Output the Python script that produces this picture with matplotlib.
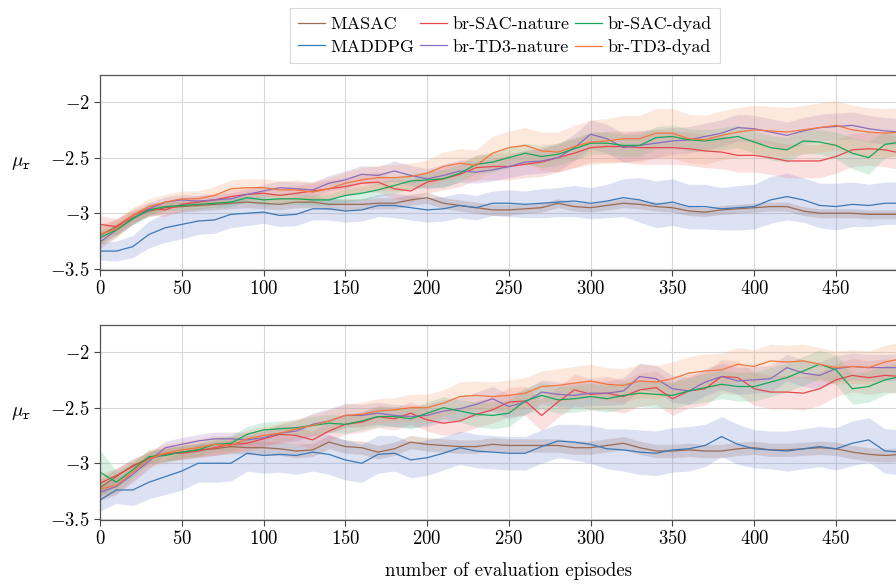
import matplotlib.pyplot as plt
import numpy as np

# evaluation episodes (sampled every 10)
episodes = np.arange(0, 500, 10)

labels = ['MASAC', 'MADDPG', 'br-SAC-nature', 'br-TD3-nature', 'br-SAC-dyad', 'br-TD3-dyad']
colors = ['#9c6b50', '#3a78b8', '#e8474b', '#8a6cc0', '#16a85a', '#f5773c']
fills = ['#9c6b50', '#6f86d0', '#f08080', '#a080c8', '#5cc08a', '#f5a070']

# ---- upper panel: mean values ----
top_masac = [-3.20, -3.12, -3.04, -2.98, -2.95, -2.94, -2.93, -2.92, -2.91, -2.90,
             -2.91, -2.92, -2.90, -2.90, -2.92, -2.92, -2.92, -2.91, -2.91, -2.88,
             -2.86, -2.91, -2.93, -2.95, -2.97, -2.97, -2.96, -2.95, -2.91, -2.94,
             -2.95, -2.93, -2.91, -2.92, -2.94, -2.95, -2.98, -2.99, -2.97, -2.96,
             -2.95, -2.94, -2.94, -2.98, -3.00, -3.00, -3.00, -3.01, -3.01, -3.01]
top_maddpg = [-3.34, -3.34, -3.30, -3.19, -3.13, -3.10, -3.07, -3.06, -3.01, -3.00,
              -2.99, -3.02, -3.01, -2.96, -2.96, -2.98, -2.97, -2.93, -2.93, -2.95,
              -2.97, -2.96, -2.93, -2.95, -2.91, -2.91, -2.92, -2.91, -2.90, -2.89,
              -2.91, -2.89, -2.86, -2.88, -2.92, -2.90, -2.94, -2.94, -2.96, -2.95,
              -2.94, -2.88, -2.85, -2.88, -2.93, -2.94, -2.92, -2.93, -2.91, -2.91]
top_sac_nature = [-3.10, -3.12, -3.02, -2.96, -2.97, -2.92, -2.90, -2.88, -2.85, -2.83,
                  -2.82, -2.84, -2.82, -2.80, -2.78, -2.76, -2.73, -2.72, -2.78, -2.80,
                  -2.72, -2.69, -2.65, -2.59, -2.58, -2.58, -2.56, -2.54, -2.50, -2.46,
                  -2.41, -2.40, -2.40, -2.41, -2.41, -2.41, -2.42, -2.44, -2.45, -2.48,
                  -2.48, -2.50, -2.53, -2.53, -2.53, -2.49, -2.43, -2.42, -2.43, -2.46]
top_td3_nature = [-3.26, -3.15, -3.05, -2.96, -2.90, -2.88, -2.89, -2.88, -2.87, -2.83,
                  -2.80, -2.77, -2.78, -2.79, -2.73, -2.70, -2.65, -2.66, -2.62, -2.66,
                  -2.69, -2.66, -2.62, -2.63, -2.61, -2.58, -2.54, -2.53, -2.50, -2.41,
                  -2.29, -2.33, -2.41, -2.39, -2.37, -2.35, -2.34, -2.31, -2.28, -2.23,
                  -2.24, -2.27, -2.30, -2.26, -2.23, -2.22, -2.21, -2.24, -2.26, -2.27]
top_sac_dyad = [-3.22, -3.15, -3.05, -2.97, -2.94, -2.93, -2.92, -2.91, -2.90, -2.86,
                -2.88, -2.87, -2.87, -2.88, -2.88, -2.84, -2.82, -2.79, -2.75, -2.71,
                -2.70, -2.69, -2.64, -2.56, -2.54, -2.50, -2.46, -2.49, -2.47, -2.42,
                -2.37, -2.37, -2.39, -2.39, -2.32, -2.31, -2.34, -2.35, -2.33, -2.31,
                -2.36, -2.41, -2.43, -2.35, -2.36, -2.39, -2.46, -2.50, -2.38, -2.36]
top_td3_dyad = [-3.19, -3.14, -3.02, -2.94, -2.90, -2.87, -2.87, -2.84, -2.78, -2.77,
                -2.77, -2.79, -2.79, -2.81, -2.78, -2.73, -2.70, -2.68, -2.68, -2.67,
                -2.64, -2.58, -2.55, -2.57, -2.46, -2.41, -2.39, -2.44, -2.45, -2.40,
                -2.36, -2.35, -2.33, -2.33, -2.28, -2.28, -2.33, -2.34, -2.30, -2.27,
                -2.25, -2.26, -2.27, -2.25, -2.23, -2.21, -2.25, -2.27, -2.28, -2.27]

# ---- upper panel: band half-widths ----
top_masac_sd = [0.08, 0.07, 0.06, 0.05, 0.05, 0.05, 0.05, 0.05, 0.05, 0.05,
                0.05, 0.05, 0.05, 0.05, 0.05, 0.05, 0.05, 0.05, 0.05, 0.05,
                0.05, 0.05, 0.05, 0.05, 0.05, 0.05, 0.04, 0.04, 0.04, 0.04,
                0.04, 0.04, 0.04, 0.04, 0.04, 0.04, 0.04, 0.04, 0.04, 0.04,
                0.04, 0.04, 0.04, 0.04, 0.04, 0.04, 0.04, 0.04, 0.04, 0.04]
top_maddpg_sd = [0.08, 0.09, 0.10, 0.12, 0.13, 0.13, 0.12, 0.12, 0.12, 0.11,
                 0.10, 0.10, 0.10, 0.10, 0.10, 0.10, 0.10, 0.10, 0.11, 0.11,
                 0.11, 0.11, 0.11, 0.11, 0.11, 0.12, 0.12, 0.13, 0.13, 0.14,
                 0.14, 0.15, 0.17, 0.20, 0.21, 0.21, 0.20, 0.20, 0.19, 0.20,
                 0.20, 0.21, 0.21, 0.20, 0.20, 0.21, 0.20, 0.19, 0.19, 0.19]
top_sac_nature_sd = [0.08, 0.07, 0.06, 0.06, 0.06, 0.06, 0.06, 0.06, 0.06, 0.06,
                     0.06, 0.07, 0.07, 0.07, 0.08, 0.08, 0.08, 0.09, 0.09, 0.10,
                     0.10, 0.10, 0.11, 0.11, 0.12, 0.12, 0.12, 0.13, 0.13, 0.13,
                     0.13, 0.14, 0.14, 0.15, 0.15, 0.15, 0.15, 0.15, 0.15, 0.15,
                     0.15, 0.15, 0.15, 0.15, 0.15, 0.15, 0.15, 0.15, 0.15, 0.15]
top_td3_nature_sd = [0.06, 0.06, 0.05, 0.05, 0.05, 0.05, 0.05, 0.05, 0.05, 0.05,
                     0.06, 0.06, 0.06, 0.07, 0.07, 0.08, 0.08, 0.08, 0.09, 0.09,
                     0.09, 0.10, 0.10, 0.10, 0.10, 0.10, 0.11, 0.11, 0.12, 0.12,
                     0.13, 0.13, 0.13, 0.13, 0.13, 0.12, 0.12, 0.12, 0.12, 0.12,
                     0.12, 0.12, 0.12, 0.12, 0.12, 0.12, 0.12, 0.12, 0.12, 0.12]
top_sac_dyad_sd = [0.06, 0.05, 0.05, 0.05, 0.04, 0.04, 0.04, 0.04, 0.04, 0.04,
                   0.05, 0.05, 0.05, 0.05, 0.05, 0.06, 0.06, 0.06, 0.07, 0.07,
                   0.07, 0.08, 0.08, 0.08, 0.09, 0.09, 0.09, 0.10, 0.10, 0.10,
                   0.10, 0.10, 0.10, 0.10, 0.10, 0.10, 0.10, 0.10, 0.10, 0.10,
                   0.10, 0.11, 0.11, 0.11, 0.11, 0.12, 0.14, 0.15, 0.12, 0.11]
top_td3_dyad_sd = [0.10, 0.08, 0.07, 0.07, 0.07, 0.07, 0.07, 0.08, 0.08, 0.08,
                   0.08, 0.08, 0.09, 0.09, 0.10, 0.10, 0.11, 0.11, 0.12, 0.12,
                   0.12, 0.13, 0.13, 0.14, 0.15, 0.15, 0.16, 0.17, 0.18, 0.19,
                   0.20, 0.20, 0.21, 0.21, 0.22, 0.22, 0.22, 0.22, 0.22, 0.22,
                   0.22, 0.22, 0.22, 0.22, 0.22, 0.22, 0.22, 0.22, 0.22, 0.22]

# ---- lower panel: mean values ----
bot_masac = [-3.22, -3.12, -3.02, -2.96, -2.92, -2.90, -2.88, -2.87, -2.85, -2.86,
             -2.86, -2.87, -2.89, -2.88, -2.81, -2.85, -2.86, -2.90, -2.87, -2.81,
             -2.83, -2.84, -2.85, -2.85, -2.83, -2.84, -2.84, -2.84, -2.84, -2.86,
             -2.86, -2.84, -2.82, -2.86, -2.89, -2.89, -2.88, -2.89, -2.89, -2.87,
             -2.86, -2.88, -2.88, -2.87, -2.86, -2.87, -2.90, -2.92, -2.93, -2.92]
bot_maddpg = [-3.33, -3.24, -3.24, -3.17, -3.12, -3.07, -3.00, -3.00, -3.00, -2.91,
              -2.93, -2.92, -2.93, -2.90, -2.92, -2.97, -3.00, -2.92, -2.91, -2.97,
              -2.95, -2.91, -2.86, -2.89, -2.90, -2.91, -2.91, -2.85, -2.80, -2.81,
              -2.83, -2.87, -2.88, -2.90, -2.91, -2.88, -2.87, -2.84, -2.76, -2.83,
              -2.87, -2.88, -2.89, -2.87, -2.85, -2.87, -2.82, -2.79, -2.89, -2.90]
bot_sac_nature = [-3.18, -3.11, -3.03, -2.95, -2.91, -2.91, -2.89, -2.86, -2.83, -2.82,
                  -2.78, -2.74, -2.75, -2.79, -2.71, -2.65, -2.63, -2.58, -2.60, -2.55,
                  -2.61, -2.64, -2.62, -2.56, -2.52, -2.45, -2.44, -2.57, -2.45, -2.34,
                  -2.38, -2.37, -2.40, -2.34, -2.32, -2.42, -2.35, -2.33, -2.22, -2.23,
                  -2.33, -2.36, -2.36, -2.37, -2.33, -2.25, -2.21, -2.23, -2.21, -2.22]
bot_td3_nature = [-3.26, -3.21, -3.10, -2.98, -2.86, -2.83, -2.80, -2.78, -2.78, -2.79,
                  -2.77, -2.73, -2.71, -2.65, -2.62, -2.57, -2.57, -2.55, -2.57, -2.58,
                  -2.57, -2.53, -2.51, -2.47, -2.42, -2.49, -2.45, -2.36, -2.38, -2.39,
                  -2.37, -2.37, -2.35, -2.22, -2.24, -2.33, -2.35, -2.27, -2.22, -2.26,
                  -2.25, -2.24, -2.14, -2.19, -2.21, -2.15, -2.13, -2.14, -2.14, -2.14]
bot_sac_dyad = [-3.08, -3.17, -3.06, -2.94, -2.93, -2.90, -2.88, -2.83, -2.82, -2.74,
                -2.70, -2.69, -2.68, -2.66, -2.64, -2.65, -2.62, -2.58, -2.58, -2.60,
                -2.55, -2.50, -2.53, -2.56, -2.57, -2.55, -2.44, -2.39, -2.43, -2.42,
                -2.40, -2.42, -2.39, -2.37, -2.38, -2.39, -2.35, -2.32, -2.29, -2.31,
                -2.31, -2.27, -2.23, -2.17, -2.11, -2.16, -2.33, -2.31, -2.25, -2.22]
bot_td3_dyad = [-3.23, -3.20, -3.08, -2.96, -2.91, -2.88, -2.86, -2.83, -2.84, -2.78,
                -2.75, -2.73, -2.69, -2.66, -2.62, -2.57, -2.56, -2.53, -2.52, -2.50,
                -2.50, -2.46, -2.40, -2.39, -2.40, -2.39, -2.37, -2.31, -2.30, -2.28,
                -2.26, -2.29, -2.30, -2.26, -2.27, -2.24, -2.19, -2.17, -2.16, -2.11,
                -2.13, -2.08, -2.09, -2.08, -2.11, -2.14, -2.13, -2.14, -2.09, -2.06]

# ---- lower panel: band half-widths ----
bot_masac_sd = [0.08, 0.07, 0.06, 0.06, 0.06, 0.06, 0.06, 0.06, 0.06, 0.06,
                0.06, 0.06, 0.06, 0.06, 0.06, 0.06, 0.06, 0.06, 0.06, 0.06,
                0.06, 0.06, 0.06, 0.06, 0.06, 0.06, 0.06, 0.06, 0.06, 0.06,
                0.06, 0.06, 0.06, 0.06, 0.06, 0.06, 0.06, 0.06, 0.06, 0.06,
                0.06, 0.06, 0.06, 0.06, 0.06, 0.06, 0.06, 0.06, 0.06, 0.06]
bot_maddpg_sd = [0.10, 0.12, 0.14, 0.15, 0.16, 0.17, 0.17, 0.17, 0.16, 0.16,
                 0.16, 0.16, 0.17, 0.17, 0.18, 0.18, 0.17, 0.17, 0.16, 0.16,
                 0.16, 0.15, 0.15, 0.15, 0.15, 0.15, 0.15, 0.15, 0.15, 0.16,
                 0.17, 0.18, 0.19, 0.20, 0.20, 0.20, 0.20, 0.19, 0.18, 0.18,
                 0.17, 0.17, 0.18, 0.18, 0.18, 0.19, 0.20, 0.20, 0.20, 0.20]
bot_sac_nature_sd = [0.08, 0.07, 0.06, 0.06, 0.06, 0.06, 0.06, 0.07, 0.07, 0.07,
                     0.07, 0.08, 0.08, 0.08, 0.09, 0.09, 0.09, 0.10, 0.10, 0.10,
                     0.10, 0.11, 0.11, 0.12, 0.12, 0.13, 0.13, 0.14, 0.14, 0.14,
                     0.14, 0.15, 0.15, 0.15, 0.15, 0.15, 0.15, 0.15, 0.15, 0.15,
                     0.15, 0.15, 0.15, 0.15, 0.15, 0.15, 0.15, 0.15, 0.15, 0.15]
bot_td3_nature_sd = [0.08, 0.07, 0.07, 0.07, 0.06, 0.06, 0.06, 0.06, 0.06, 0.07,
                     0.07, 0.08, 0.09, 0.10, 0.11, 0.11, 0.10, 0.10, 0.10, 0.10,
                     0.10, 0.10, 0.10, 0.11, 0.11, 0.11, 0.11, 0.11, 0.11, 0.11,
                     0.11, 0.11, 0.12, 0.12, 0.12, 0.12, 0.12, 0.12, 0.12, 0.12,
                     0.12, 0.12, 0.12, 0.12, 0.12, 0.12, 0.12, 0.12, 0.12, 0.12]
bot_sac_dyad_sd = [0.20, 0.10, 0.07, 0.06, 0.06, 0.06, 0.06, 0.06, 0.07, 0.07,
                   0.07, 0.07, 0.07, 0.08, 0.08, 0.08, 0.08, 0.09, 0.09, 0.09,
                   0.10, 0.10, 0.10, 0.11, 0.12, 0.12, 0.12, 0.12, 0.12, 0.12,
                   0.12, 0.12, 0.12, 0.12, 0.12, 0.12, 0.12, 0.13, 0.13, 0.13,
                   0.13, 0.13, 0.13, 0.13, 0.13, 0.13, 0.14, 0.14, 0.13, 0.13]
bot_td3_dyad_sd = [0.09, 0.08, 0.08, 0.08, 0.08, 0.08, 0.08, 0.08, 0.08, 0.08,
                   0.08, 0.09, 0.09, 0.10, 0.10, 0.10, 0.11, 0.11, 0.11, 0.12,
                   0.12, 0.12, 0.13, 0.13, 0.13, 0.14, 0.14, 0.14, 0.15, 0.15,
                   0.15, 0.15, 0.15, 0.15, 0.15, 0.15, 0.15, 0.15, 0.15, 0.15,
                   0.15, 0.15, 0.15, 0.15, 0.15, 0.15, 0.15, 0.15, 0.15, 0.15]

top_means = [top_masac, top_maddpg, top_sac_nature, top_td3_nature, top_sac_dyad, top_td3_dyad]
top_sds = [top_masac_sd, top_maddpg_sd, top_sac_nature_sd, top_td3_nature_sd, top_sac_dyad_sd, top_td3_dyad_sd]
bot_means = [bot_masac, bot_maddpg, bot_sac_nature, bot_td3_nature, bot_sac_dyad, bot_td3_dyad]
bot_sds = [bot_masac_sd, bot_maddpg_sd, bot_sac_nature_sd, bot_td3_nature_sd, bot_sac_dyad_sd, bot_td3_dyad_sd]

plt.rcParams['font.family'] = 'serif'
plt.rcParams['font.serif'] = ['cmr10', 'DejaVu Serif']
plt.rcParams['mathtext.fontset'] = 'cm'
plt.rcParams['axes.formatter.use_mathtext'] = True
plt.rcParams['axes.unicode_minus'] = True

fig = plt.figure(figsize=(8.96, 5.84), dpi=100)
ax_top = fig.add_axes([0.1116, 0.5377, 0.9127, 0.3339])
ax_bot = fig.add_axes([0.1116, 0.1096, 0.9127, 0.3339])

for ax, means, sds in [(ax_top, top_means, top_sds), (ax_bot, bot_means, bot_sds)]:
    for i in range(len(labels)):
        m = np.array(means[i])
        s = np.array(sds[i])
        ax.fill_between(episodes, m - s, m + s, color=fills[i], alpha=0.24, lw=0)
    for i in range(len(labels)):
        ax.plot(episodes, means[i], color=colors[i], lw=0.9, label=labels[i])

    ax.set_xlim(0, 500)
    ax.set_ylim(-3.51, -1.757)
    ax.set_xticks(np.arange(0, 500, 50))
    ax.set_yticks([-3.5, -3, -2.5, -2])
    ax.set_yticklabels([r'$-3.5$', r'$-3$', r'$-2.5$', r'$-2$'])
    ax.set_xticklabels([r'$%d$' % t for t in np.arange(0, 500, 50)])
    ax.grid(True, color='#d8d8d8', lw=0.8)
    ax.set_axisbelow(True)
    ax.tick_params(direction='out', length=4, width=0.8, color='#444444',
                   labelsize=13.5, top=False, right=False)
    for sp in ax.spines.values():
        sp.set_color('#555555')
        sp.set_linewidth(0.9)
    ax.set_ylabel(r'$\mu_{\mathtt{r}}$', rotation=0, fontsize=14)
    ax.yaxis.set_label_coords(-0.097, 0.5)

ax_bot.set_xlabel('number of evaluation episodes', fontsize=13.5, labelpad=10)

h, l = ax_top.get_legend_handles_labels()
leg = fig.legend(h, l, loc='upper center', bbox_to_anchor=(0.5635, 0.995), ncol=3,
                 fontsize=13, frameon=True, fancybox=False, edgecolor='#d0d0d0',
                 handlelength=1.5, handletextpad=0.3, columnspacing=0.3,
                 labelspacing=0.38, borderpad=0.45, borderaxespad=0.3)
leg.get_frame().set_linewidth(0.8)

fig.savefig('out.png', dpi=100)
